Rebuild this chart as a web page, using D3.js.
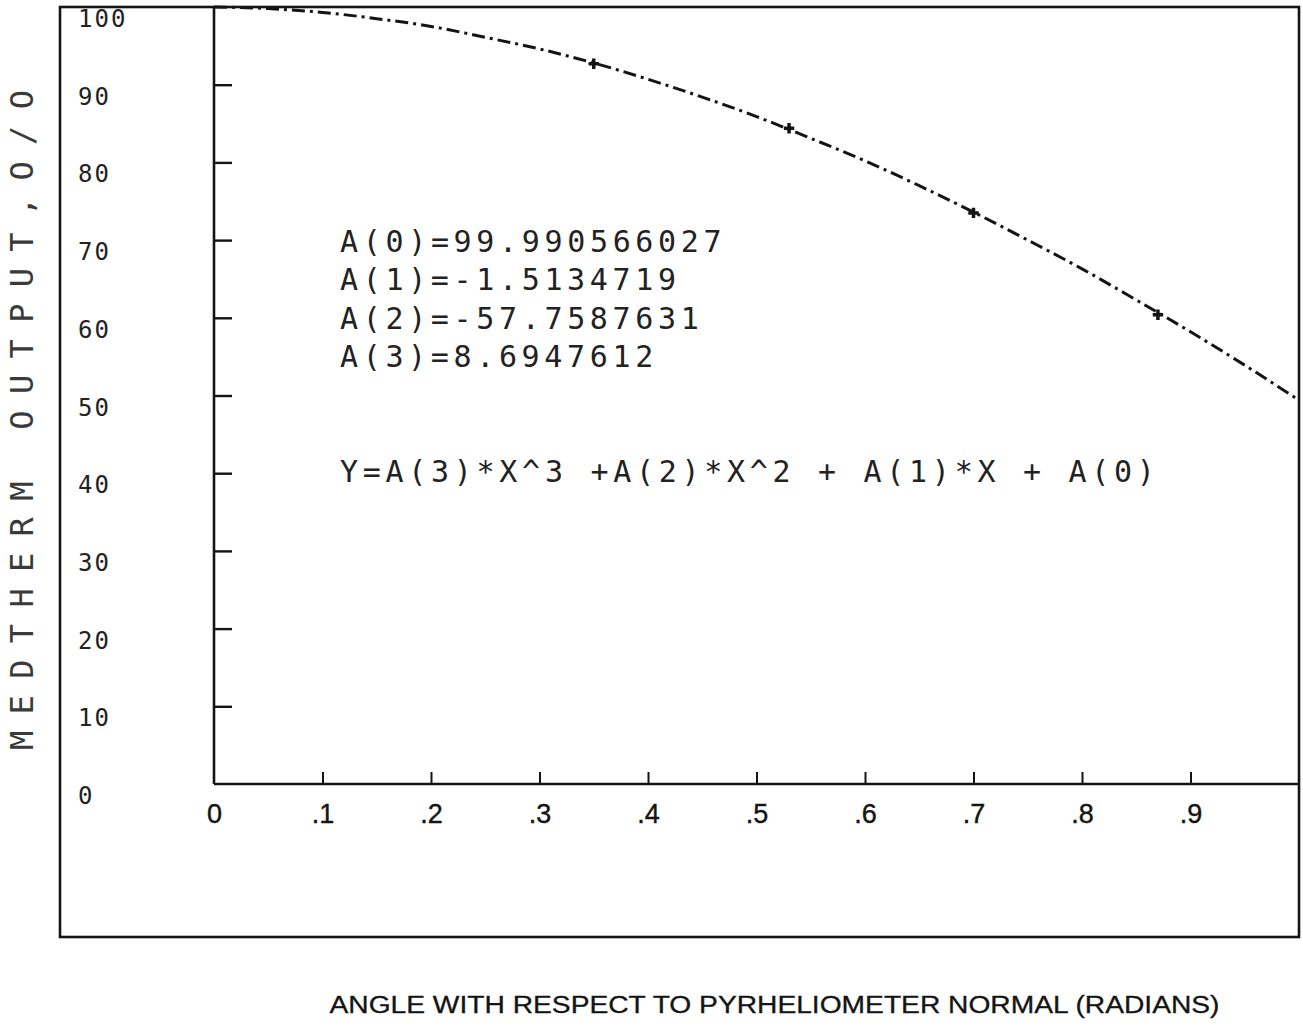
<!DOCTYPE html>
<html>
<head>
<meta charset="utf-8">
<script src="https://cdn.jsdelivr.net/npm/d3@7"></script>
<style>
  html, body { margin: 0; padding: 0; background: #ffffff; }
  svg { display: block; }
</style>
</head>
<body>
<svg id="chart" width="1303" height="1027"></svg>
<script>
// ---- data ----
const angleValues = [0, 0.05, 0.1, 0.15, 0.2, 0.25, 0.3, 0.35, 0.4, 0.45, 0.5,
                     0.55, 0.6, 0.65, 0.7, 0.75, 0.8, 0.85, 0.9, 0.95, 1.0];
const outputValues = [100.0, 99.8, 99.3, 98.5, 97.5, 96.1, 94.6, 92.8, 90.7, 88.4, 85.9,
                      83.1, 80.2, 77.0, 73.6, 70.0, 66.3, 62.3, 58.2, 53.9, 49.4];
const markerAngles = [0.35, 0.53, 0.70, 0.87];
const markerOutputs = [92.7, 84.4, 73.5, 60.4];
const yTickValues = [0, 10, 20, 30, 40, 50, 60, 70, 80, 90, 100];
const yTickLabels = ["0", "10", "20", "30", "40", "50", "60", "70", "80", "90", "100"];
const xTickValues = [0, 0.1, 0.2, 0.3, 0.4, 0.5, 0.6, 0.7, 0.8, 0.9];
const xTickLabels = ["0", ".1", ".2", ".3", ".4", ".5", ".6", ".7", ".8", ".9"];
const coefficientLines = ["A(0)=99.990566027", "A(1)=-1.5134719", "A(2)=-57.7587631", "A(3)=8.6947612"];
const equationLine = "Y=A(3)*X^3 +A(2)*X^2 + A(1)*X + A(0)";
const xTitle = "ANGLE WITH RESPECT TO PYRHELIOMETER NORMAL (RADIANS)";
const yTitle = "MEDTHERM OUTPUT,O/O";

// ---- layout ----
const svg = d3.select("#chart");
const plotLeft = 214, plotRight = 1299, plotTop = 7, plotBottom = 784;
const frameLeft = 60, frameBottom = 937;
const ink = "#141414";
const segFont = "'DejaVu Sans Mono', 'Liberation Mono', monospace";

const x = d3.scaleLinear().domain([0, 1]).range([plotLeft, plotRight]);
const y = d3.scaleLinear().domain([0, 100]).range([plotBottom, plotTop]);

// outer frame
svg.append("rect")
  .attr("x", frameLeft).attr("y", plotTop)
  .attr("width", plotRight - frameLeft).attr("height", frameBottom - plotTop)
  .attr("fill", "none").attr("stroke", ink).attr("stroke-width", 2.6);

// y axis (ticks pointing into the plot)
const yAxis = svg.append("g")
  .attr("transform", `translate(${plotLeft},0)`)
  .call(d3.axisRight(y).tickValues(yTickValues.filter(v => v > 0 && v < 100))
        .tickSizeInner(18).tickSizeOuter(0).tickFormat(""));
yAxis.select(".domain").remove();
yAxis.selectAll(".tick line").attr("stroke", ink).attr("stroke-width", 2.4);
svg.append("line")
  .attr("x1", plotLeft).attr("x2", plotLeft)
  .attr("y1", plotTop).attr("y2", plotBottom)
  .attr("stroke", ink).attr("stroke-width", 2.6);

// x axis (ticks pointing up, labels below)
const xAxis = svg.append("g")
  .attr("transform", `translate(0,${plotBottom})`)
  .call(d3.axisBottom(x).tickValues(xTickValues)
        .tickSizeInner(-12).tickSizeOuter(0).tickPadding(20)
        .tickFormat((d, i) => xTickLabels[i]));
xAxis.select(".domain").remove();
xAxis.selectAll(".tick line").attr("stroke", ink).attr("stroke-width", 2)
  .attr("opacity", d => d === 0 ? 0 : 1);
xAxis.selectAll(".tick text")
  .attr("fill", ink)
  .attr("font-family", "'Liberation Sans', Arial, Helvetica, sans-serif")
  .attr("font-size", 27)
  .attr("stroke", ink).attr("stroke-width", 0.4);
svg.append("line")
  .attr("x1", plotLeft).attr("x2", plotRight)
  .attr("y1", plotBottom).attr("y2", plotBottom)
  .attr("stroke", ink).attr("stroke-width", 2.4);

// y tick labels (left column)
svg.append("g").selectAll("text")
  .data(yTickValues)
  .join("text")
  .attr("x", 78)
  .attr("y", d => y(d) + 13)
  .attr("dominant-baseline", "middle")
  .attr("font-family", segFont)
  .attr("font-size", 24)
  .attr("letter-spacing", 2)
  .attr("fill", "#222")
  .text((d, i) => yTickLabels[i]);

// curve
const line = d3.line()
  .x((d, i) => x(angleValues[i]))
  .y(d => y(d))
  .curve(d3.curveMonotoneX);
svg.append("path")
  .datum(outputValues)
  .attr("d", line)
  .attr("fill", "none")
  .attr("stroke", ink)
  .attr("stroke-width", 3)
  .attr("stroke-dasharray", "13,5,3,5");

// data markers
svg.append("g").selectAll("path")
  .data(markerOutputs)
  .join("path")
  .attr("transform", (d, i) => `translate(${x(markerAngles[i])},${y(d)})`)
  .attr("d", d3.symbol().type(d3.symbolCross).size(60))
  .attr("fill", ink);

// coefficient annotations
svg.append("g").selectAll("text")
  .data(coefficientLines)
  .join("text")
  .attr("x", 340)
  .attr("y", (d, i) => 243 + i * 38.5)
  .attr("dominant-baseline", "middle")
  .attr("font-family", segFont)
  .attr("font-size", 30)
  .attr("fill", "#222")
  .attr("textLength", d => d.length * 22.8 - 6)
  .attr("lengthAdjust", "spacing")
  .text(d => d);

svg.append("text")
  .attr("x", 340).attr("y", 473)
  .attr("dominant-baseline", "middle")
  .attr("font-family", segFont)
  .attr("font-size", 30)
  .attr("fill", "#222")
  .attr("textLength", equationLine.length * 22.8 - 6)
  .attr("lengthAdjust", "spacing")
  .text(equationLine);

// axis titles
svg.append("text")
  .attr("x", (x(0) + x(1)) / 2 + 18).attr("y", 1007)
  .attr("text-anchor", "middle")
  .attr("dominant-baseline", "middle")
  .attr("font-family", "'Liberation Sans', Arial, Helvetica, sans-serif")
  .attr("font-size", 23)
  .attr("fill", ink)
  .attr("stroke", ink).attr("stroke-width", 0.3)
  .attr("textLength", 890)
  .attr("lengthAdjust", "spacingAndGlyphs")
  .text(xTitle);

svg.append("text")
  .attr("transform", "translate(24,420) rotate(-90)")
  .attr("text-anchor", "middle")
  .attr("dominant-baseline", "middle")
  .attr("font-family", segFont)
  .attr("font-size", 32)
  .attr("fill", "#3a3a3a")
  .attr("textLength", 660)
  .attr("lengthAdjust", "spacing")
  .text(yTitle);
</script>
</body>
</html>
